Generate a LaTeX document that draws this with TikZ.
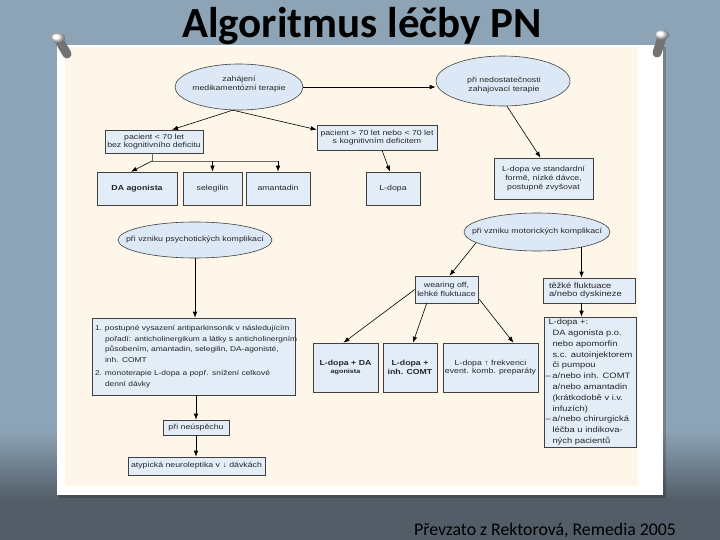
\documentclass[tikz,border=0pt]{standalone}
\usepackage{fontspec}
\setmainfont{Liberation Sans}
\newfontfamily\dfont[FakeStretch=1.2]{Liberation Sans}
\newfontfamily\calfont{Carlito}
\usetikzlibrary{shapes.geometric,arrows.meta,calc}
\definecolor{bgblue}{HTML}{8DA4B6}
\definecolor{bgdark}{HTML}{525D67}
\definecolor{cream}{HTML}{FDF6E9}
\definecolor{boxblue}{HTML}{E2EDF8}
\definecolor{ellblue}{HTML}{DCE8F5}
\definecolor{txtc}{HTML}{262626}
\newcommand\gsize{\dfont\fontsize{7.3}{8.6}\selectfont}
\newcommand\bsize{\dfont\fontsize{7.0}{10.5}\selectfont}
\newcommand\rsize{\dfont\fontsize{7.8}{10.8}\selectfont}
\newcommand\tsize{\dfont\fontsize{7.8}{8.8}\selectfont}
\newcommand\dsh{\makebox[7pt][l]{–}}
\newcommand\ind{\hspace*{7pt}}
\hyphenpenalty=10000
\exhyphenpenalty=10000
\begin{document}
\begin{tikzpicture}[x=1pt,y=-1pt,
  box/.style={draw=black!75, line width=0.6pt, fill=boxblue, inner sep=1pt, align=center, font=\gsize, text=txtc},
  one/.style={text height=5.5pt, text depth=1.6pt},
  ell/.style={ellipse, draw=black!75, line width=0.6pt, fill=ellblue, inner sep=0pt},
  txt/.style={align=center, font=\gsize, text=txtc, inner sep=0pt},
  arr/.style={-{Latex[length=6pt,width=4.5pt]}, line width=0.6pt, draw=black},
  con/.style={line width=0.6pt, draw=black!60}]
\useasboundingbox (0,0) rectangle (720,540);
% background
\fill[bgblue] (0,0) rectangle (720,540);
\shade[top color=bgblue, bottom color=bgdark] (0,430) rectangle (720,500);
\fill[bgdark] (0,500) rectangle (720,540);
% paper
\fill[black, opacity=0.2] (59,47) rectangle (666,498);
\fill[white] (57,45) rectangle (663,495);
\fill[cream] (65,47) rectangle (638,486);
% pins
\draw[line width=9pt, line cap=round, black!55] (59,40) -- (67,54);
\shade[ball color=white] (58,38) ellipse (7 and 5);
\draw[line width=9pt, line cap=round, black!55] (662,37) -- (657,53);
\shade[ball color=white] (662,35) ellipse (7 and 5);
% title and footer
\node[font=\calfont\bfseries\fontsize{43}{43}\selectfont, anchor=base, text=black, inner sep=0pt] (title) at (362,38) {Algoritmus léčby PN};
\node[font=\calfont\fontsize{17.8}{18}\selectfont, anchor=base, text=black, inner sep=0pt] (foot) at (545,535) {Převzato z Rektorová, Remedia 2005};
% ellipses
\node[ell, minimum width=128, minimum height=46] (e1) at (239,87) {};
\node[txt] (e1t) at (239,84) {zahájení\\medikamentózní terapie};
\node[ell, minimum width=134, minimum height=50] (e2) at (503,81) {};
\node[txt] (e2t) at (504,85) {při nedostatečnosti\\zahajovací terapie};
\node[ell, minimum width=154, minimum height=36] (e3) at (195,240) {};
\node[txt] (e3t) at (e3.center) {při vzniku psychotických komplikací};
\node[ell, minimum width=146, minimum height=38] (e4) at (537,232) {};
\node[txt] (e4t) at (e4.center) {při vzniku motorických komplikací};
% boxes
\node[box, minimum width=98, minimum height=23] (b1) at (154,141.5) {pacient < 70 let\\bez kognitivního deficitu};
\node[box, minimum width=120, minimum height=25] (b2) at (377,137.5) {pacient > 70 let nebo < 70 let\\s kognitivním deficitem};
\node[box, one, minimum width=80, minimum height=33] (da) at (137,188.5) {\bfseries DA agonista};
\node[box, one, minimum width=59, minimum height=33] (sel) at (212.5,188.5) {selegilin};
\node[box, one, minimum width=64, minimum height=33] (ama) at (278,188.5) {amantadin};
\node[box, one, minimum width=54, minimum height=33] (ld) at (393,188.5) {L-dopa};
\node[box, minimum width=99, minimum height=41] (lds) at (543.5,178.5) {L-dopa ve standardní\\formě, nízké dávce,\\postupně zvyšovat};
\node[box, minimum width=203, minimum height=77, text width=197, inner xsep=3pt, align=left, font=\bsize] (big) at (193.5,356.5) {\begin{tabular}{@{}p{10pt}@{}l@{}}1. & postupné vysazení antiparkinsonik v následujícím\\ & pořadí: anticholinergikum a látky s anticholinergním\\ & působením, amantadin, selegilin, DA-agonisté,\\ & inh. COMT\\[3pt] 2. & monoterapie L-dopa a popř. snížení celkové\\ & denní dávky\end{tabular}};
\node[box, one, minimum width=66, minimum height=15] (ne) at (196,427.5) {při neúspěchu};
\node[box, one, minimum width=137, minimum height=18] (aty) at (196.5,466) {atypická neuroleptika v ↓ dávkách};
\node[box, minimum width=63, minimum height=27] (wo) at (446.5,289.5) {wearing off,\\lehké fluktuace};
\node[box, minimum width=92, minimum height=25, text width=80, inner xsep=6pt, align=left, font=\tsize] (tf) at (589,290.5) {těžké fluktuace\\a/nebo dyskineze};
\node[box, minimum width=92, minimum height=130, text width=89, inner xsep=1.5pt, align=left, font=\rsize] (rb) at (590,382) {\hspace*{3pt}L-dopa +:\\\ind DA agonista p.o.\\\ind nebo apomorfin\\\ind s.c. autoinjektorem\\\ind či pumpou\\\dsh a/nebo inh. COMT\\\ind a/nebo amantadin\\\ind (krátkodobě v i.v.\\\ind infuzích)\\\dsh a/nebo chirurgická\\\ind léčba u indikova-\\\ind ných pacientů};
\node[box, minimum width=65, minimum height=49] (c1) at (345.5,367.5) {\bfseries L-dopa + DA\\[-1pt]{\fontsize{6}{7}\selectfont\bfseries agonista}};
\node[box, minimum width=54, minimum height=49] (c2) at (410,367.5) {\bfseries L-dopa +\\\bfseries inh. COMT};
\node[box, minimum width=95, minimum height=49] (c3) at (490.5,367.5) {L-dopa ↑ frekvenci\\event. komb. preparáty};
% connectors
\draw[arr] (e1.east) -- (e1.east -| e2.west);
\draw[arr] (e1.255) -- ($(b1.north)+(18,0)$);
\draw[arr] (e1.255) -- ($(b2.north west)+(0,5)$);
\coordinate (j) at (152,161);
\draw[con] (b1.south -| j) -- (j) -- (j -| ama.north);
\draw[arr] (j) -- ($(da.north)+(-6,0)$);
\draw[arr] (j -| sel.north) -- (sel.north);
\draw[arr] (j -| ama.north) -- (ama.north);
\draw[arr] ($(b2.south)+(5,0)$) -- ($(ld.north)+(-3,0)$);
\draw[arr] ($(e2.south)+(4,0)$) -- ($(lds.north)+(-3,0)$);
\draw[arr] (e3.south) -- (e3.south |- big.north);
\draw[arr] (ne.north |- big.south) -- (ne.north);
\draw[arr] (ne.south) -- (ne.south |- aty.north);
\draw[arr] (e4.190) -- ($(wo.north)+(3,0)$);
\draw[arr] (e4.341) -- (e4.341 |- tf.north);
\draw[arr] (e4.341 |- tf.south) -- (e4.341 |- rb.north);
\draw[arr] (wo.west) -- ($(c1.north)+(-2,0)$);
\draw[arr] ($(wo.south west)+(12,0)$) -- ($(c2.north)+(3,0)$);
\draw[arr] ($(wo.south east)+(1,-4)$) -- ($(c3.north)+(23,0)$);
\end{tikzpicture}
\end{document}
